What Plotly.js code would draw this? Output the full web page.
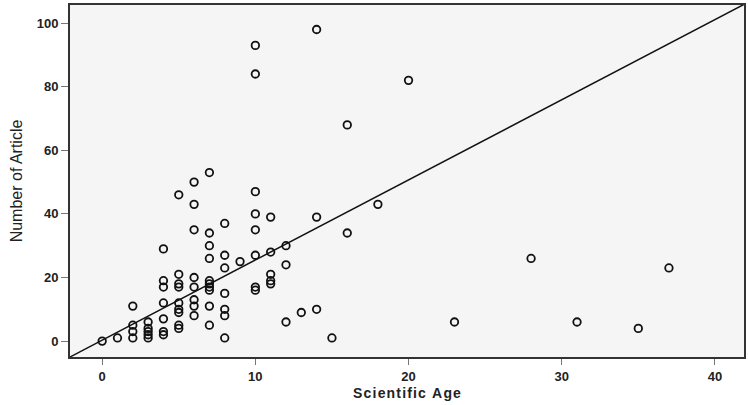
<!DOCTYPE html>
<html>
<head>
<meta charset="utf-8">
<script src="https://cdn.plot.ly/plotly-3.0.1.min.js"></script>
<style>html,body{margin:0;padding:0;background:#fff;}#chart{width:748px;height:405px;}</style>
</head>
<body>
<div id="chart"></div>
<script>
// Scientific age (years) of each author
const scientificAge = [
  0, 1,
  2, 2, 2, 2,
  3, 3, 3, 3, 3,
  4, 4, 4, 4, 4, 4, 4,
  5, 5, 5, 5, 5, 5, 5, 5, 5,
  6, 6, 6, 6, 6, 6, 6, 6,
  7, 7, 7, 7, 7, 7, 7, 7, 7, 7,
  8, 8, 8, 8, 8, 8, 8,
  9,
  10, 10, 10, 10, 10, 10, 10, 10,
  11, 11, 11, 11, 11,
  12, 12, 12,
  13,
  14, 14, 14,
  15,
  16, 16,
  18,
  20,
  23, 28, 31, 35, 37
];
// Number of articles of each author
const numberOfArticles = [
  0, 1,
  11, 5, 3, 1,
  6, 4, 3, 2, 1,
  29, 19, 17, 12, 7, 3, 2,
  46, 21, 18, 17, 12, 10, 9, 5, 4,
  50, 43, 35, 20, 17, 13, 11, 8,
  53, 34, 30, 26, 19, 18, 17, 16, 11, 5,
  37, 27, 23, 15, 10, 8, 1,
  25,
  93, 84, 47, 40, 35, 27, 17, 16,
  39, 28, 21, 19, 18,
  30, 24, 6,
  9,
  98, 39, 10,
  1,
  68, 34,
  43,
  82,
  6, 26, 6, 4, 23
];
// Fit line (reference line y = a + b x)
const fitIntercept = 0.3;
const fitSlope = 2.52;
const xRange = [-2.1, 41.9];
const yRange = [-5.0, 105.7];
const xTicks = [0, 10, 20, 30, 40];
const yTicks = [0, 20, 40, 60, 80, 100];
const xTitle = 'Scientific Age';
const yTitle = 'Number of Article';

const lineX = [xRange[0] - 1, xRange[1] + 1];
const lineY = lineX.map(x => fitIntercept + fitSlope * x);

// slightly letter-spaced title using hair spaces
const spaced = s => s.split('').join('\u200A');

const traces = [
  {
    x: lineX, y: lineY, type: 'scatter', mode: 'lines',
    line: {color: '#111', width: 1.5}, hoverinfo: 'skip', showlegend: false
  },
  {
    x: scientificAge, y: numberOfArticles, type: 'scatter', mode: 'markers',
    marker: {symbol: 'circle-open', size: 7.5, color: '#111', line: {width: 1.8, color: '#111'}},
    showlegend: false
  }
];

const layout = {
  width: 748, height: 405,
  margin: {l: 70, r: 4, t: 5, b: 48},
  paper_bgcolor: '#ffffff',
  plot_bgcolor: '#f5f5f5',
  showlegend: false,
  xaxis: {
    range: xRange, tickvals: xTicks, ticktext: xTicks.map(String),
    showgrid: false, zeroline: false,
    showline: true, mirror: true, linecolor: '#333', linewidth: 2,
    ticks: 'outside', ticklen: 6, tickwidth: 1, tickcolor: '#777',
    tickfont: {family: 'Liberation Sans, Arial, sans-serif', size: 13, color: '#222', weight: 'bold'},
    title: {text: '<b>' + spaced(xTitle) + '</b>', standoff: 6,
            font: {family: 'Liberation Sans, Arial, sans-serif', size: 14, color: '#222'}}
  },
  yaxis: {
    range: yRange, tickvals: yTicks, ticktext: yTicks.map(String),
    showgrid: false, zeroline: false,
    showline: true, mirror: true, linecolor: '#333', linewidth: 2,
    ticks: 'outside', ticklen: 7, tickwidth: 1, tickcolor: '#777',
    tickfont: {family: 'Liberation Sans, Arial, sans-serif', size: 13, color: '#222', weight: 'bold'},
    title: {text: yTitle, standoff: 10,
            font: {family: 'Liberation Sans Narrow, Arial Narrow, sans-serif', size: 16, color: '#222'}}
  }
};

Plotly.newPlot('chart', traces, layout, {displayModeBar: false, staticPlot: true});
</script>
</body>
</html>
